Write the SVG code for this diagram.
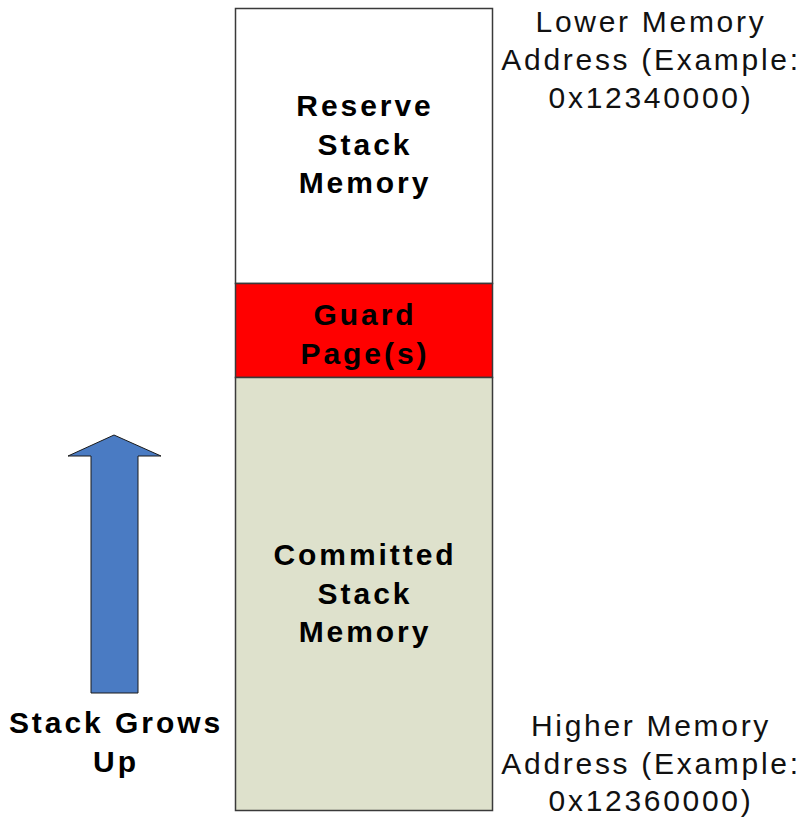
<svg xmlns="http://www.w3.org/2000/svg" width="803" height="819" viewBox="0 0 803 819">
  <style>
    .seg { stroke: #3a3a3a; stroke-width: 1.5; }
    .lbl { font-family: "Liberation Sans", Arial, sans-serif; font-size: 30px; font-weight: bold; letter-spacing: 2.95px; text-anchor: middle; fill: #000; }
    .addr { font-family: "Liberation Sans", Arial, sans-serif; font-size: 30px; letter-spacing: 2.7px; text-anchor: middle; fill: #111; }
  </style>
  <rect width="803" height="819" fill="#fff"/>

  <!-- stack regions -->
  <g id="reserve">
    <rect class="seg" x="235.5" y="8.5" width="257" height="275" fill="#ffffff"/>
    <text class="lbl" x="365" y="116">Reserve</text>
    <text class="lbl" x="365" y="155">Stack</text>
    <text class="lbl" x="365" y="193">Memory</text>
  </g>
  <g id="guard">
    <rect class="seg" x="235.5" y="283.5" width="257" height="94" fill="#ff0000"/>
    <text class="lbl" x="365" y="325">Guard</text>
    <text class="lbl" x="365" y="364">Page(s)</text>
  </g>
  <g id="committed">
    <rect class="seg" x="235.5" y="377.5" width="257" height="433" fill="#dee1cc"/>
    <text class="lbl" x="365" y="565">Committed</text>
    <text class="lbl" x="365" y="604">Stack</text>
    <text class="lbl" x="365" y="642">Memory</text>
  </g>

  <!-- growth direction -->
  <g id="grow-arrow">
    <polygon points="114,435 161,456 138,456 138,693 91,693 91,456 68,456" fill="#4a7bc3" stroke="#1a1a1a" stroke-width="1"/>
  </g>
  <g id="grow-label">
    <text class="lbl" x="116" y="733">Stack Grows</text>
    <text class="lbl" x="116" y="772">Up</text>
  </g>

  <!-- address annotations -->
  <g id="low-addr">
    <text class="addr" x="651" y="32">Lower Memory</text>
    <text class="addr" x="651" y="70">Address (Example:</text>
    <text class="addr" x="651" y="108">0x12340000)</text>
  </g>
  <g id="high-addr">
    <text class="addr" x="651" y="736">Higher Memory</text>
    <text class="addr" x="651" y="774">Address (Example:</text>
    <text class="addr" x="651" y="811">0x12360000)</text>
  </g>

  <g id="connectors"></g>
</svg>
